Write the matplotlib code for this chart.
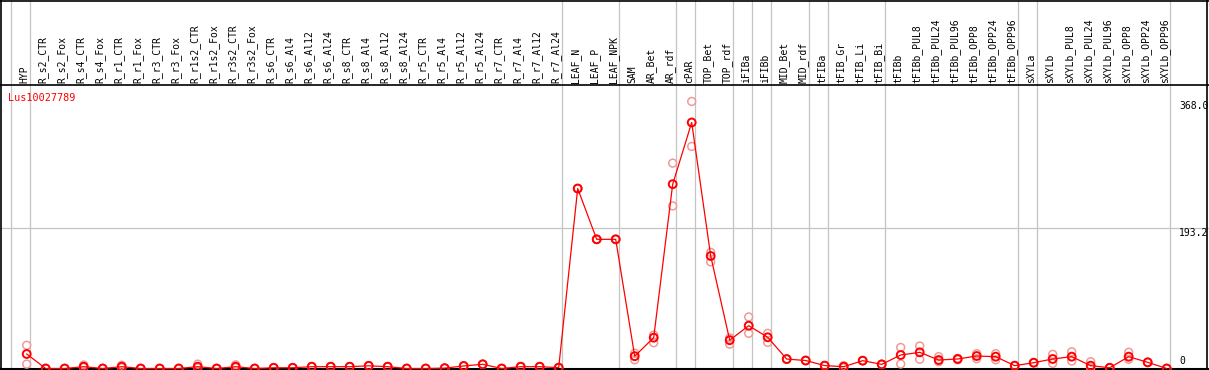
import matplotlib
matplotlib.use("Agg")
import matplotlib.pyplot as plt

# ---------------- data ----------------
categories = ["HYP", "R_s2_CTR", "R_s2_Fox", "R_s4_CTR", "R_s4_Fox", "R_r1_CTR", "R_r1_Fox",
              "R_r3_CTR", "R_r3_Fox", "R_r1s2_CTR", "R_r1s2_Fox", "R_r3s2_CTR", "R_r3s2_Fox",
              "R_s6_CTR", "R_s6_Al4", "R_s6_Al12", "R_s6_Al24", "R_s8_CTR", "R_s8_Al4",
              "R_s8_Al12", "R_s8_Al24", "R_r5_CTR", "R_r5_Al4", "R_r5_Al12", "R_r5_Al24",
              "R_r7_CTR", "R_r7_Al4", "R_r7_Al12", "R_r7_Al24", "LEAF_N", "LEAF_P", "LEAF_NPK",
              "SAM", "AR_Bet", "AR_rdf", "cPAR", "TOP_Bet", "TOP_rdf", "iFIBa", "iFIBb",
              "MID_Bet", "MID_rdf", "tFIBa", "tFIB_Gr", "tFIB_Li", "tFIB_Bi", "tFIBb",
              "tFIBb_PUL8", "tFIBb_PUL24", "tFIBb_PUL96", "tFIBb_OPP8", "tFIBb_OPP24",
              "tFIBb_OPP96", "sXYLa", "sXYLb", "sXYLb_PUL8", "sXYLb_PUL24", "sXYLb_PUL96",
              "sXYLb_OPP8", "sXYLb_OPP24", "sXYLb_OPP96"]

mean_values = [20, 0, 0, 2.5, 0, 2.5, 0, 0, 0, 2.5, 0, 2.5, 0,
               1, 1, 2.5, 2.5, 2.5, 3.7, 2.5, 0, 0, 0.5, 3.5, 5.8,
               0, 2.5, 2.5, 1.2, 248, 178, 178,
               17, 42.5, 254, 339, 155, 39, 59, 43,
               13, 11, 4, 2.5, 10.8, 5.7, 18.6,
               22.3, 11.7, 13.1, 17.2, 16.3,
               3.9, 8, 13.1, 16.3, 3.9, 1,
               16.3, 8.5, 0]

rep_high = [32, 0, 0, 4.8, 0, 4.5, 0, 0, 0, 6, 0, 5, 0,
            1, 1, 2.5, 2.5, 2.5, 3.7, 2.5, 0, 0, 0.5, 3.5, 5.8,
            0, 2.5, 2.5, 1.2, 248, 178, 178,
            21, 46, 283, 368, 160, 42, 71, 48.5,
            13, 11, 4, 4, 10.8, 5.7, 29,
            31, 16.3, 14, 20.4, 20.4,
            3.9, 8, 19.5, 23, 9.4, 1,
            22.3, 8.5, 0]

rep_low = [6, 0, 0, 1.5, 0, 1, 0, 0, 0, 1, 0, 1, 0,
           1, 1, 2.5, 2.5, 2.5, 3.7, 2.5, 0, 0, 0.5, 3.5, 5.8,
           0, 2.5, 2.5, 1.2, 248, 178, 178,
           12, 35.5, 224, 306, 147, 33.5, 48.5, 36,
           13, 11, 4, 1, 10.8, 5.7, 6.2,
           12.7, 9.4, 12, 13.5, 12.1,
           3.9, 8, 7, 10.3, 1, 1,
           12.7, 8.5, 0]

group_ends = [-1, 0, 28, 31, 34, 35, 37, 38, 39, 41, 42, 45, 52, 53, 60]
y_tick_values = [368.0, 193.2, 0]
y_tick_labels = ["368.0", "193.2", "0"]
gene_name = "Lus10027789"

# ---------------- layout (pixel geometry) ----------------
W, H = 1209, 370
x0_px, dx_px = 26.7, 19.0          # x pixel of first category, spacing
y0_px, ky = 368.5, 0.7257          # y pixel of value 0, px per unit

def px_to_x(px):
    return (px - x0_px) / dx_px

def px_to_y(py):
    return (y0_px - py) / ky

fig = plt.figure(figsize=(W / 100, H / 100), dpi=100)
ax = fig.add_axes([0, 0, 1, 1])
ax.set_xlim(px_to_x(0), px_to_x(W))
ax.set_ylim(px_to_y(H), px_to_y(0))
ax.axis("off")

mono = "DejaVu Sans Mono"
grid_c = "#c4c4c4"

# vertical group separators (full height)
for g in group_ends:
    ax.axvline(g + 0.19, color=grid_c, lw=0.9, zorder=1)

# horizontal mid grid line
ax.axhline(y_tick_values[1], color=grid_c, lw=0.9, zorder=1)

# borders and header separator
ax.axhline(px_to_y(85), color="black", lw=1.2, zorder=2)
ax.axhline(px_to_y(369), color="black", lw=1.5, zorder=2)
ax.axhline(px_to_y(0.5), color="black", lw=1.2, zorder=2)
ax.axvline(px_to_x(0.8), color="black", lw=1.2, zorder=2)
ax.axvline(px_to_x(1207.3), color="black", lw=1.2, zorder=2)

# category labels in header
xs = list(range(len(categories)))
for i, name in enumerate(categories):
    ax.text(i - 0.12, px_to_y(83), name, rotation=90, ha="center", va="bottom",
            fontsize=7, family=mono, color="black", zorder=3)

# replicates
rep_c = "#f09a9a"
ax.scatter(xs, rep_high, s=32, facecolors="none", edgecolors=rep_c, linewidths=1.1, zorder=4)
ax.scatter(xs, rep_low, s=32, facecolors="none", edgecolors=rep_c, linewidths=1.1, zorder=4)

# mean line + markers
ax.plot(xs, mean_values, color="red", lw=0.9, zorder=5)
ax.scatter(xs, mean_values, s=32, facecolors="none", edgecolors="red", linewidths=1.4, zorder=6)

# gene name
ax.text(px_to_x(8), px_to_y(98), gene_name, ha="left", va="center", fontsize=7.3,
        family=mono, color="red", zorder=7)

# y value labels on right
lx = px_to_x(1179)
ax.text(lx, px_to_y(101), y_tick_labels[0], ha="left", va="top", fontsize=7, family=mono)
ax.text(lx, px_to_y(228), y_tick_labels[1], ha="left", va="top", fontsize=7, family=mono)
ax.text(lx, px_to_y(366), y_tick_labels[2], ha="left", va="bottom", fontsize=7, family=mono)

fig.savefig("out.png", dpi=100)
